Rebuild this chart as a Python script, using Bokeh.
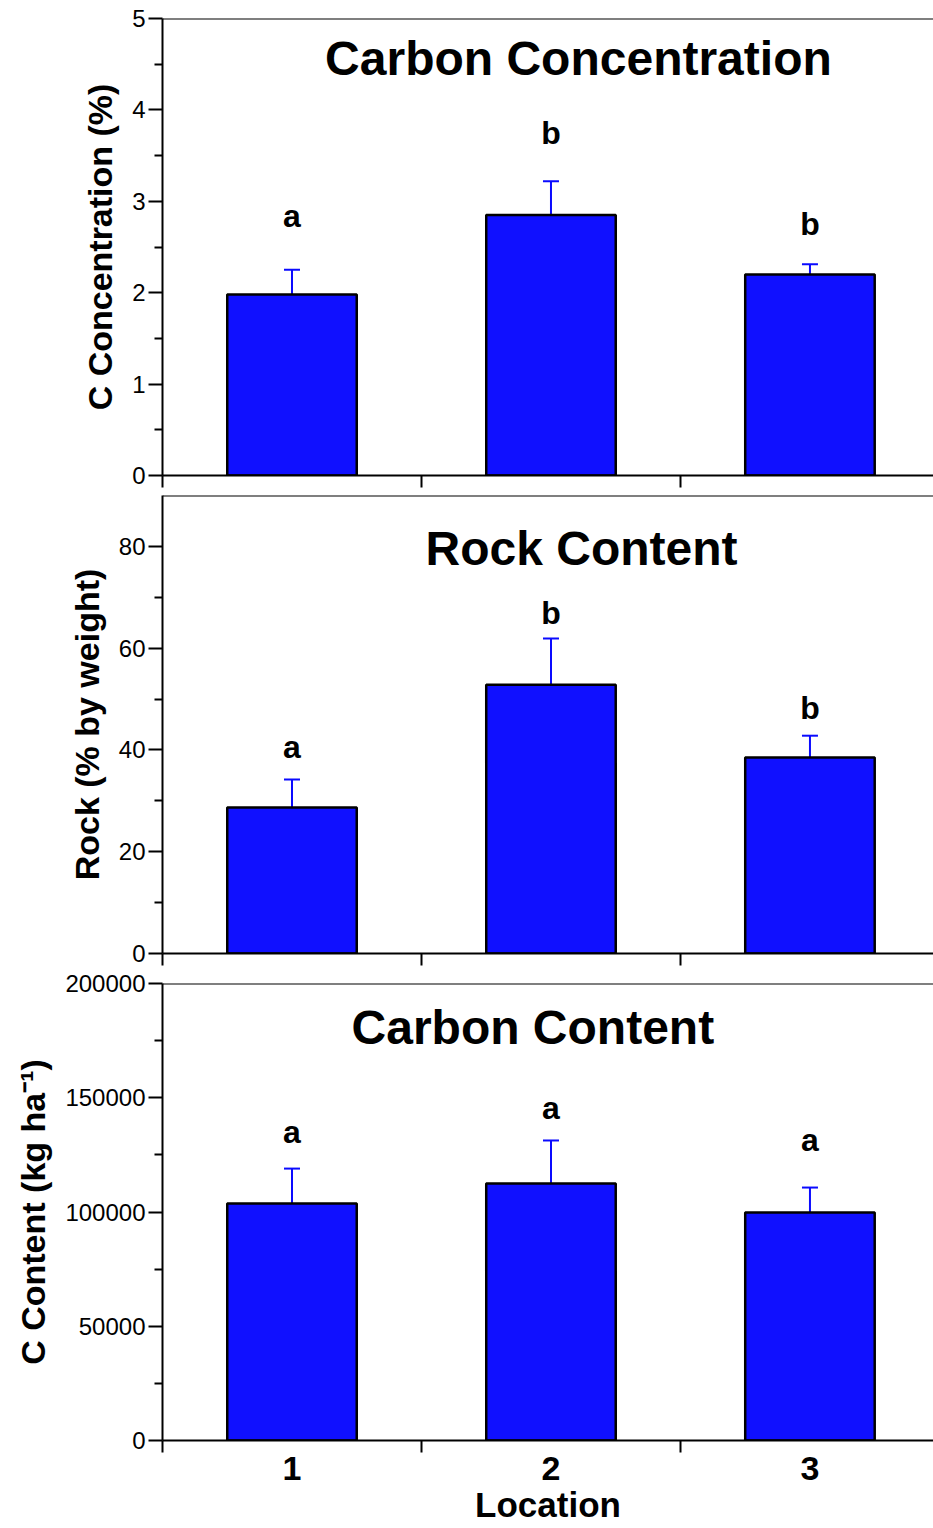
from bokeh.plotting import figure
from bokeh.models import (FixedTicker, Whisker, TeeHead, ColumnDataSource, Label,
                          Span, BasicTickFormatter, Range1d)
from bokeh.layouts import column
from bokeh.core.properties import value
from bokeh.embed import file_html
from bokeh.resources import INLINE

# ---- data ----
locations = [1, 2, 3]
location_labels = ["1", "2", "3"]

c_conc = [1.98, 2.85, 2.20]
c_conc_se = [0.27, 0.37, 0.11]
c_conc_letters = ["a", "b", "b"]
c_conc_letter_y = [2.84, 3.75, 2.75]

rock = [28.7, 52.8, 38.5]
rock_se = [5.5, 9.1, 4.3]
rock_letters = ["a", "b", "b"]
rock_letter_y = [40.5, 67.0, 48.3]

c_content = [103700, 112500, 99800]
c_content_se = [15300, 18800, 10900]
c_content_letters = ["a", "a", "a"]
c_content_letter_y = [134800, 145700, 131700]

FONT = "Liberation Sans"
BAR_COLOR = "#1010ff"
ERR_COLOR = "#0a0aff"


def make_panel(vals, se, letters, letter_y, ymax, majors, minors, ylabel,
               title, title_x, title_y, top_b, bottom_b, frame_h, last=False):
    height = top_b + frame_h + bottom_b
    p = figure(width=933, height=height, x_range=Range1d(0.5, 3.477),
               y_range=Range1d(0, ymax), toolbar_location=None,
               output_backend="svg", min_border_left=162, min_border_right=0,
               min_border_top=top_b, min_border_bottom=bottom_b,
               outline_line_color=None, background_fill_color="white",
               border_fill_color="white")
    p.xgrid.visible = False
    p.ygrid.visible = False

    upper = [v + s for v, s in zip(vals, se)]
    src = ColumnDataSource(dict(x=locations, top=vals, upper=upper,
                                letter=letters, ly=letter_y))
    p.vbar(x="x", top="top", width=0.5, source=src, fill_color=BAR_COLOR,
           line_color="black", line_width=2.5)
    w = Whisker(base="x", upper="upper", lower="top", source=src,
                dimension="height", line_color=ERR_COLOR, line_width=2,
                upper_head=TeeHead(size=16, line_color=ERR_COLOR, line_width=2),
                lower_head=None)
    p.add_layout(w)
    p.text(x="x", y="ly", text="letter", source=src, text_align="center",
           text_baseline="middle", text_font=value(FONT),
           text_font_style="bold", text_font_size="32px", text_color="black")

    p.add_layout(Label(x=title_x, y=title_y, text=title, text_align="center",
                       text_baseline="middle", text_font=FONT,
                       text_font_style="bold", text_font_size="48px",
                       text_color="black"))
    p.add_layout(Span(location=ymax, dimension="width", line_color="black",
                      line_width=2))

    ya = p.yaxis[0]
    ya.ticker = FixedTicker(ticks=majors, minor_ticks=minors)
    ya.formatter = BasicTickFormatter(use_scientific=False)
    ya.axis_line_width = 2
    ya.major_tick_line_width = 2
    ya.minor_tick_line_width = 2
    ya.major_tick_in = 0
    ya.major_tick_out = 14
    ya.minor_tick_in = 0
    ya.minor_tick_out = 8
    ya.major_label_text_font = FONT
    ya.major_label_text_font_size = "24px"
    ya.major_label_text_color = "black"
    ya.major_label_standoff = 3
    ya.axis_label = ylabel
    ya.axis_label_text_font = FONT
    ya.axis_label_text_font_style = "bold"
    ya.axis_label_text_font_size = "34px"
    ya.axis_label_text_color = "black"
    ya.axis_label_standoff = 10

    xa = p.xaxis[0]
    xa.ticker = FixedTicker(ticks=locations, minor_ticks=[0.5, 1.5, 2.5, 3.5])
    xa.major_label_overrides = {loc: lab for loc, lab in zip(locations, location_labels)}
    xa.axis_line_width = 2
    xa.major_tick_line_color = None
    xa.minor_tick_line_width = 2
    xa.minor_tick_in = 0
    xa.minor_tick_out = 12
    if last:
        xa.major_label_text_font = FONT
        xa.major_label_text_font_style = "bold"
        xa.major_label_text_font_size = "34px"
        xa.major_label_text_color = "black"
        xa.major_label_standoff = 4
        xa.axis_label = "Location"
        xa.axis_label_text_font = FONT
        xa.axis_label_text_font_style = "bold"
        xa.axis_label_text_font_size = "35px"
        xa.axis_label_text_color = "black"
        xa.axis_label_standoff = 2
    else:
        xa.major_label_text_font_size = "0px"
        xa.major_label_text_color = None
        xa.major_label_standoff = 0
    return p


p1 = make_panel(c_conc, c_conc_se, c_conc_letters, c_conc_letter_y, 5,
                [0, 1, 2, 3, 4, 5], [0.5, 1.5, 2.5, 3.5, 4.5],
                "C Concentration (%)", "Carbon Concentration", 2.106, 4.56,
                18, 18, 457)
p2 = make_panel(rock, rock_se, rock_letters, rock_letter_y, 90,
                [0, 20, 40, 60, 80], [10, 30, 50, 70],
                "Rock (% by weight)", "Rock Content", 2.118, 79.6,
                2, 16, 458)
p3 = make_panel(c_content, c_content_se, c_content_letters, c_content_letter_y,
                200000, [0, 50000, 100000, 150000, 200000],
                [25000, 75000, 125000, 175000],
                "C Content (kg ha\u207b\u00b9)", "Carbon Content", 1.93, 180700,
                14, 87, 457, last=True)

layout = column(p1, p2, p3, spacing=0)
open("out.html", "w").write(file_html(layout, INLINE))
